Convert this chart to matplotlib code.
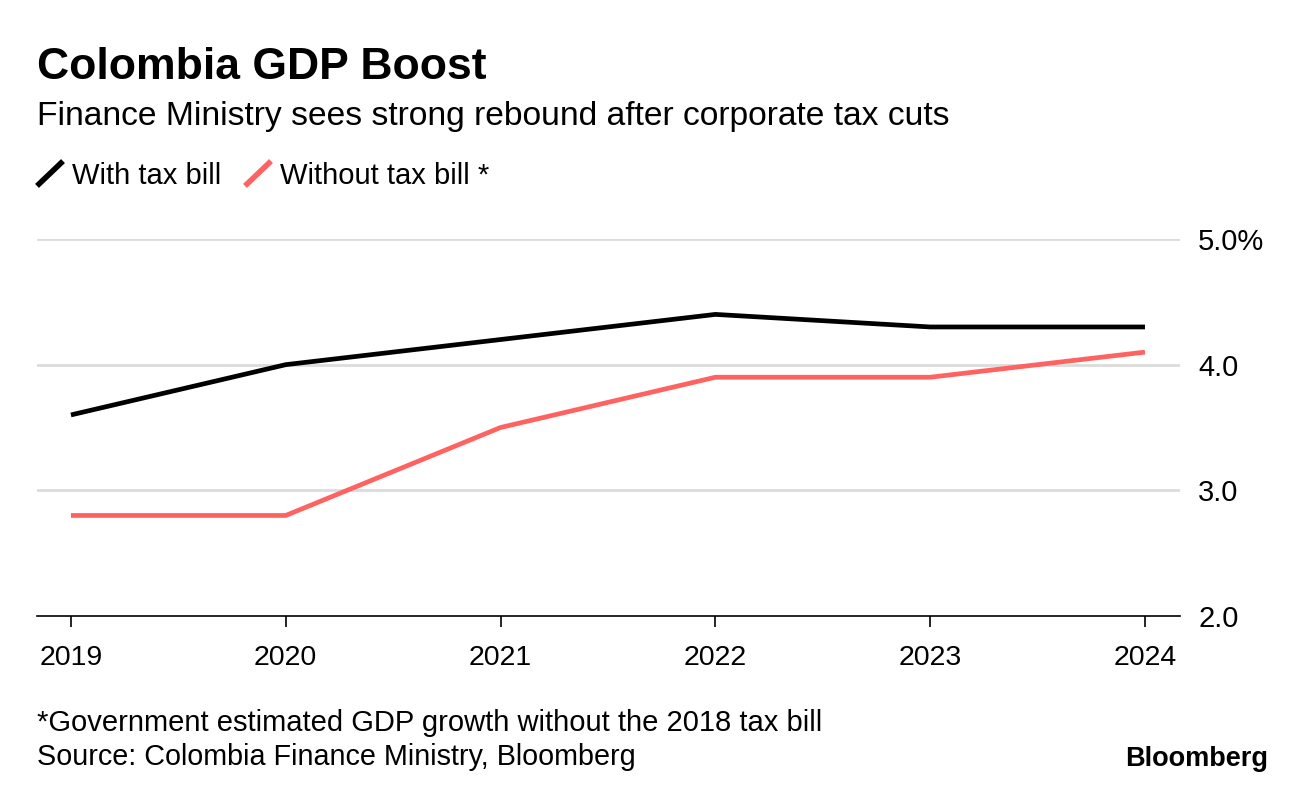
import matplotlib
matplotlib.use("Agg")
import matplotlib.pyplot as plt
from matplotlib.lines import Line2D

years = [2019, 2020, 2021, 2022, 2023, 2024]
with_tax = [3.6, 4.0, 4.2, 4.4, 4.3, 4.3]
without_tax = [2.8, 2.8, 3.5, 3.9, 3.9, 4.1]
yticks = [2.0, 3.0, 4.0, 5.0]
ytick_labels = ["2.0", "3.0", "4.0", "5.0%"]

plt.rcParams['font.family'] = ['Liberation Sans', 'DejaVu Sans']

W, H = 1296, 788
fig = plt.figure(figsize=(W / 100, H / 100), dpi=100)
fig.patch.set_facecolor("white")

def fx(px):
    return px / W

def fy(py):
    return 1 - py / H

ax = fig.add_axes([fx(37), fy(616), fx(1180) - fx(37), fy(239) - fy(616)])
ax.set_xlim(2018.842, 2024.163)
ax.set_ylim(2.0, 5.0)

for yv in yticks[1:]:
    ax.axhline(yv, color="#dcdcdc", lw=2.0, zorder=1)

black = "#000000"
red = "#ff6361"
ax.plot(years, with_tax, color=black, lw=3.4, zorder=3, solid_capstyle="butt")
ax.plot(years, without_tax, color=red, lw=3.4, zorder=3, solid_capstyle="butt")

for s in ["top", "right", "left"]:
    ax.spines[s].set_visible(False)
ax.spines["bottom"].set_color("#000000")
ax.spines["bottom"].set_linewidth(1.2)
ax.spines["bottom"].set_zorder(4)

ax.set_xticks(years)
ax.set_xticklabels([str(y) for y in years], fontsize=20.5)
ax.tick_params(axis="x", length=8, width=1.2, color="#000000", pad=13)
ax.yaxis.tick_right()
ax.set_yticks(yticks)
ax.set_yticklabels(ytick_labels, fontsize=21)
ax.tick_params(axis="y", length=0, pad=13)
for lbl in ax.get_yticklabels():
    lbl.set_horizontalalignment("left")

# Titles
fig.text(fx(37), fy(79), "Colombia GDP Boost", fontsize=32, fontweight="bold",
         va="baseline", ha="left")
fig.text(fx(37), fy(125), "Finance Ministry sees strong rebound after corporate tax cuts",
         fontsize=24.2, va="baseline", ha="left")

# Legend
fig.add_artist(Line2D([fx(39), fx(61)], [fy(184), fy(163)], color=black, lw=4.0,
                      transform=fig.transFigure))
fig.text(fx(72), fy(184), "With tax bill", fontsize=21, va="baseline", ha="left")
fig.add_artist(Line2D([fx(247), fx(269)], [fy(184), fy(163)], color=red, lw=4.0,
                      transform=fig.transFigure))
fig.text(fx(280), fy(184), "Without tax bill *", fontsize=21, va="baseline", ha="left")

# Footer
fig.text(fx(37), fy(731), "*Government estimated GDP growth without the 2018 tax bill",
         fontsize=21, va="baseline", ha="left")
fig.text(fx(37), fy(765), "Source: Colombia Finance Ministry, Bloomberg",
         fontsize=20.7, va="baseline", ha="left")
fig.text(fx(1268), fy(766), "Bloomberg", fontsize=19.5, fontweight="bold",
         va="baseline", ha="right")

fig.savefig("out.png", dpi=100, facecolor="white")
